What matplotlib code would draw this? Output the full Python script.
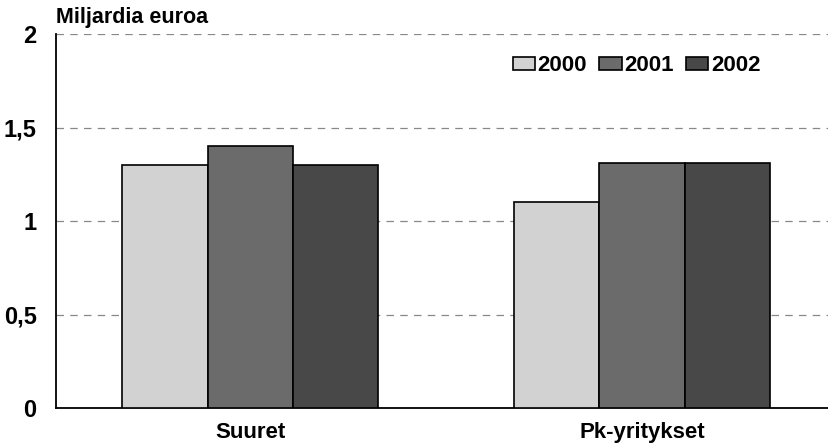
import matplotlib.pyplot as plt
import numpy as np

plt.rcParams['font.family'] = ['Liberation Sans', 'DejaVu Sans']
plt.rcParams['font.weight'] = 'bold'

categories = ['Suuret', 'Pk-yritykset']
years = ['2000', '2001', '2002']
values_2000 = [1.30, 1.10]
values_2001 = [1.40, 1.31]
values_2002 = [1.30, 1.31]
colors = ['#d2d2d2', '#6b6b6b', '#484848']

fig = plt.figure(figsize=(8.29, 4.46), dpi=100)
ax = fig.add_axes([56 / 829, 38 / 446, 1 - 56 / 829, 374 / 446])

x = np.arange(len(categories))
w = 0.217
for i, (vals, c, lab) in enumerate(zip([values_2000, values_2001, values_2002], colors, years)):
    ax.bar(x + (i - 1) * w, vals, width=w, color=c, edgecolor='black',
           linewidth=1.2, label=lab, zorder=3)

ax.set_ylim(0, 2)
ax.set_xlim(-0.495, 1.477)
ax.set_yticks([0, 0.5, 1, 1.5, 2])
ax.set_yticklabels(['0', '0,5', '1', '1,5', '2'])
ax.set_xticks(x)
ax.set_xticklabels(categories)
ax.tick_params(axis='y', length=0, pad=14, labelsize=17)
ax.tick_params(axis='x', length=0, pad=10, labelsize=16)
ax.yaxis.grid(True, linestyle=(0, (6, 5)), color='#888888', linewidth=0.9, zorder=0)

for s in ['top', 'right']:
    ax.spines[s].set_visible(False)
for s in ['left', 'bottom']:
    ax.spines[s].set_linewidth(1.3)

ax.legend(loc='center left', bbox_to_anchor=(0.591, 0.915), ncol=3, frameon=False,
          fontsize=16, handlelength=1.0, handleheight=0.55, handletextpad=0.12,
          columnspacing=0.55, borderpad=0, borderaxespad=0)

fig.text(56 / 829, 1 - 17 / 446, 'Miljardia euroa', fontsize=15.5, va='center', ha='left')

fig.savefig('out.png', dpi=100)
